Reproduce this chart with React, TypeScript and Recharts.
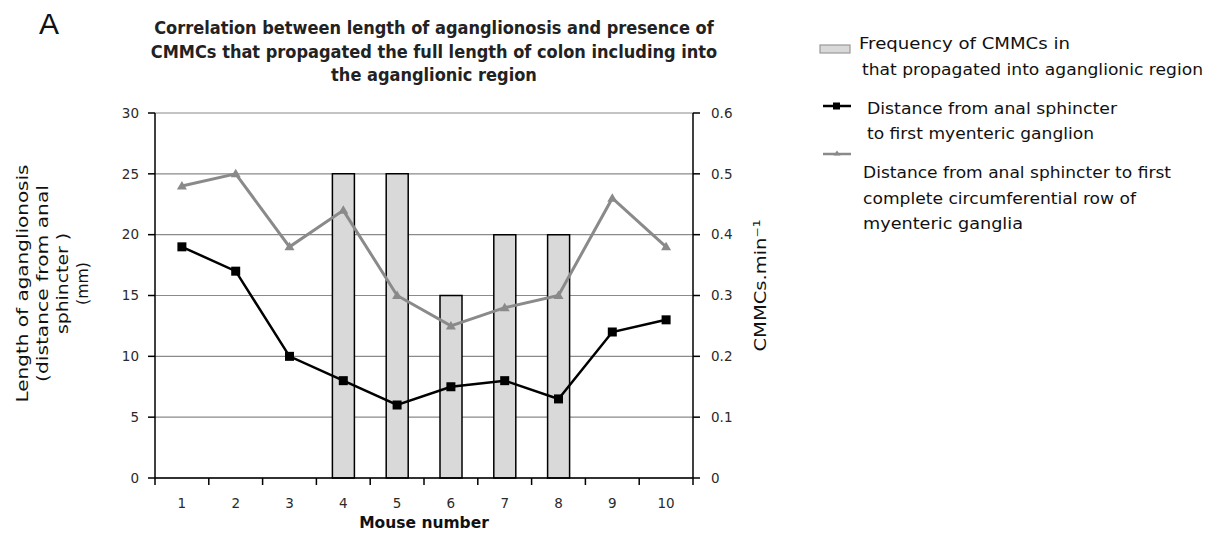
import React from 'react';
import { ComposedChart, Bar, Line, XAxis, YAxis, CartesianGrid, Legend, Label } from 'recharts';

const mice = ['1', '2', '3', '4', '5', '6', '7', '8', '9', '10'];
const firstGanglion = [19, 17, 10, 8, 6, 7.5, 8, 6.5, 12, 13];
const fullRow = [24, 25, 19, 22, 15, 12.5, 14, 15, 23, 19];
const cmmcFreq = [0, 0, 0, 0.5, 0.5, 0.3, 0.4, 0.4, 0, 0];
const leftTicks = [0, 5, 10, 15, 20, 25, 30];
const rightTicks = [0, 0.1, 0.2, 0.3, 0.4, 0.5, 0.6];

const titleLines = [
  'Correlation between length of aganglionosis and presence of',
  'CMMCs that propagated the full length of colon including into',
  'the aganglionic region',
];
const leftLabelLines = ['Length of aganglionosis', '(distance from anal', 'sphincter )', '(mm)'];
const rightLabel = 'CMMCs.min⁻¹';
const legendBar = ['Frequency of CMMCs in', 'that propagated into aganglionic region'];
const legendBlack = ['Distance from anal sphincter', 'to first myenteric ganglion'];
const legendGrey = ['Distance from anal sphincter to first', 'complete circumferential row of', 'myenteric ganglia'];

const data = mice.map((m, i) => ({
  mouse: m,
  ganglion: firstGanglion[i],
  row: fullRow[i],
  freq: cmmcFreq[i],
}));

const W = 1220;
const H = 539;
const LEFT_W = 60;
const RIGHT_W = 80;
const margin = { top: 113, right: 447, bottom: 6, left: 95 };
const plotW = W - margin.left - margin.right - LEFT_W - RIGHT_W;
const band = plotW / mice.length;

const SANS = "'DejaVu Sans', Verdana, sans-serif";
const NARROW = "'Liberation Sans Narrow', 'DejaVu Sans Condensed', Arial, sans-serif";
const GREY = '#8a8a8a';
const TICK_STYLE = { fontSize: 13.5, fontFamily: SANS, fill: '#2a2a2a' };

const XTick = (props: any) => {
  const { x, y, payload, index } = props;
  const l = x - band / 2;
  const r = x + band / 2;
  return (
    <g>
      {index === 0 && <line x1={l} y1={y} x2={l} y2={y + 7} stroke="#000" strokeWidth={1.5} />}
      <line x1={r} y1={y} x2={r} y2={y + 7} stroke="#000" strokeWidth={1.5} />
      <text x={x} y={y + 30} textAnchor="middle" {...TICK_STYLE}>
        {payload.value}
      </text>
    </g>
  );
};

const SquareDot = (p: any) =>
  p.cx == null ? null : <rect key={p.index} x={p.cx - 4.5} y={p.cy - 4.5} width={9} height={9} fill="#000" />;

const TriDot = (p: any) =>
  p.cx == null ? null : (
    <polygon
      key={p.index}
      points={`${p.cx},${p.cy - 5} ${p.cx + 5},${p.cy + 3.5} ${p.cx - 5},${p.cy + 3.5}`}
      fill={GREY}
    />
  );

const leftLabelX = [22, 42, 62, 82];
const leftLabelLen = [238, 197, 101, 43];

const LeftLabel = (props: any) => {
  const vb = props.viewBox;
  const cy = vb.y + vb.height / 2 - 12;
  return (
    <g>
      {leftLabelLines.map((t, i) => (
        <text
          key={i}
          x={leftLabelX[i]}
          y={cy}
          transform={`rotate(-90 ${leftLabelX[i]} ${cy})`}
          textAnchor="middle"
          dominantBaseline="central"
          fontSize={16.5}
          fontFamily={SANS}
          fill="#111"
          textLength={leftLabelLen[i]}
          lengthAdjust="spacingAndGlyphs"
        >
          {t}
        </text>
      ))}
    </g>
  );
};

const RightLabel = (props: any) => {
  const vb = props.viewBox;
  const cx = vb.x + 67;
  const cy = vb.y + vb.height / 2 - 10;
  return (
    <text
      x={cx}
      y={cy}
      transform={`rotate(-90 ${cx} ${cy})`}
      textAnchor="middle"
      dominantBaseline="central"
      fontSize={16.5}
      fontFamily={SANS}
      fill="#111"
      textLength={132}
      lengthAdjust="spacingAndGlyphs"
    >
      {rightLabel}
    </text>
  );
};

const LG_X = 800;
const LG_Y = 20;
const legendRows = [
  { t: legendBar[0], x: 859, cy: 43, w: 211 },
  { t: legendBar[1], x: 862, cy: 69, w: 341 },
  { t: legendBlack[0], x: 867, cy: 108, w: 250 },
  { t: legendBlack[1], x: 867, cy: 133, w: 227 },
  { t: legendGrey[0], x: 863, cy: 172, w: 308 },
  { t: legendGrey[1], x: 863, cy: 198, w: 273 },
  { t: legendGrey[2], x: 863, cy: 223, w: 160 },
];

const LegendContent = () => {
  return (
    <svg width={420} height={230}>
      <rect x={820 - LG_X} y={45 - LG_Y} width={30} height={8} fill="#d9d9d9" stroke="#999" strokeWidth={1.2} />
      <line x1={823 - LG_X} y1={106 - LG_Y} x2={851 - LG_X} y2={106 - LG_Y} stroke="#000" strokeWidth={2.5} />
      <rect x={833 - LG_X} y={102.5 - LG_Y} width={7} height={7} fill="#000" />
      <line x1={823 - LG_X} y1={154 - LG_Y} x2={851 - LG_X} y2={154 - LG_Y} stroke={GREY} strokeWidth={2.5} />
      <polygon
        points={`${837 - LG_X},${150.5 - LG_Y} ${840.5 - LG_X},${155.5 - LG_Y} ${833.5 - LG_X},${155.5 - LG_Y}`}
        fill={GREY}
      />
      {legendRows.map((r, i) => (
        <text
          key={i}
          x={r.x - LG_X}
          y={r.cy - LG_Y + 5.5}
          fontSize={15.5}
          fontFamily={SANS}
          fill="#111"
          textLength={r.w}
          lengthAdjust="spacingAndGlyphs"
        >
          {r.t}
        </text>
      ))}
    </svg>
  );
};

export default function App() {
  return (
    <div style={{ position: 'absolute', left: 0, top: 0, width: W, height: H, background: '#fff' }}>
      <div
        style={{
          position: 'absolute',
          left: 39,
          top: 5,
          fontSize: 30,
          fontFamily: "'Liberation Sans', Arial, sans-serif",
          color: '#111',
          lineHeight: '38px',
        }}
      >
        A
      </div>
      <div
        style={{
          position: 'absolute',
          left: 134,
          top: 16,
          width: 600,
          textAlign: 'center',
          fontSize: 18,
          fontWeight: 'bold',
          fontFamily: NARROW,
          color: '#222',
          lineHeight: '23.5px',
          zIndex: 2,
        }}
      >
        {titleLines.map((t, i) => (
          <div key={i}>{t}</div>
        ))}
      </div>
      <ComposedChart width={W} height={H} data={data} margin={margin}>
        <CartesianGrid yAxisId="left" vertical={false} stroke={GREY} strokeWidth={1.2} />
        <XAxis
          dataKey="mouse"
          type="category"
          interval={0}
          tickLine={false}
          tickSize={0}
          tickMargin={0}
          tick={<XTick />}
          axisLine={{ stroke: '#000', strokeWidth: 1.5 }}
          height={55}
        >
          <Label
            value="Mouse number"
            position="insideBottom"
            offset={5}
            style={{ fontSize: 15.5, fontWeight: 'bold', fontFamily: SANS, fill: '#111' }}
          />
        </XAxis>
        <YAxis
          yAxisId="left"
          orientation="left"
          width={LEFT_W}
          domain={[0, 30]}
          ticks={leftTicks}
          interval={0}
          tickSize={7}
          tickMargin={9}
          tickLine={{ stroke: '#000', strokeWidth: 1.5 }}
          axisLine={{ stroke: '#000', strokeWidth: 1.5 }}
          tick={TICK_STYLE}
        >
          <Label content={<LeftLabel />} />
        </YAxis>
        <YAxis
          yAxisId="right"
          orientation="right"
          width={RIGHT_W}
          domain={[0, 0.6]}
          ticks={rightTicks}
          interval={0}
          tickSize={7}
          tickMargin={11}
          tickLine={{ stroke: '#000', strokeWidth: 1.5 }}
          axisLine={{ stroke: '#000', strokeWidth: 1.5 }}
          tick={TICK_STYLE}
        >
          <Label content={<RightLabel />} />
        </YAxis>
        <Legend
          layout="vertical"
          align="center"
          verticalAlign="middle"
          content={<LegendContent />}
          wrapperStyle={{ position: 'absolute', left: LG_X, top: LG_Y, width: 420, height: 230 }}
        />
        <Bar
          yAxisId="right"
          dataKey="freq"
          barSize={22}
          fill="#d9d9d9"
          stroke="#000"
          strokeWidth={1.5}
          isAnimationActive={false}
        />
        <Line
          yAxisId="left"
          dataKey="row"
          stroke={GREY}
          strokeWidth={3}
          dot={<TriDot />}
          activeDot={false}
          isAnimationActive={false}
        />
        <Line
          yAxisId="left"
          dataKey="ganglion"
          stroke="#000"
          strokeWidth={2.5}
          dot={<SquareDot />}
          activeDot={false}
          isAnimationActive={false}
        />
      </ComposedChart>
    </div>
  );
}
